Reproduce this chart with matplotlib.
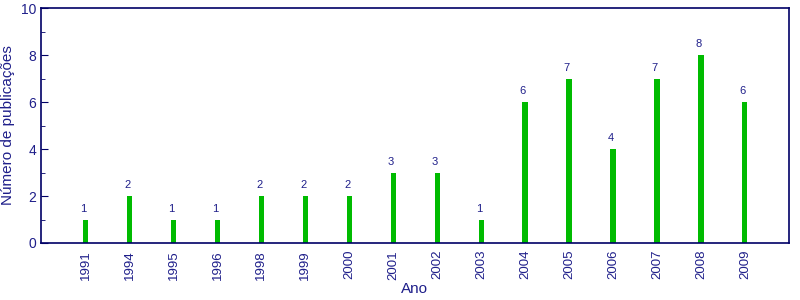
import matplotlib
matplotlib.use("Agg")
import matplotlib.pyplot as plt
from matplotlib.ticker import MultipleLocator

anos = ["1991", "1994", "1995", "1996", "1998", "1999", "2000", "2001",
        "2002", "2003", "2004", "2005", "2006", "2007", "2008", "2009"]
publicacoes = [1, 2, 1, 1, 2, 2, 2, 3, 3, 1, 6, 7, 4, 7, 8, 6]

texto = "#1f1f8a"
borda = "#000066"
verde = "#00bb00"

plt.rcParams["font.family"] = ["Liberation Sans", "DejaVu Sans"]

fig = plt.figure(figsize=(8, 3), dpi=100)
ax = fig.add_axes([0.051, 0.19, 0.935, 0.783])

x = range(len(anos))
ax.bar(x, publicacoes, width=0.12, color=verde)
for xi, v in zip(x, publicacoes):
    ax.text(xi - 0.05, v + 0.25, str(v), ha="center", va="bottom",
            fontsize=8, color=texto)

ax.set_xlim(-1.02, 16)
ax.set_ylim(0, 10)
ax.set_xticks(list(x))
ax.set_xticklabels(anos, rotation=90, fontsize=9.5, color=texto)
ax.tick_params(axis="x", length=0, pad=5)
ax.yaxis.set_major_locator(MultipleLocator(2))
ax.yaxis.set_minor_locator(MultipleLocator(1))
ax.tick_params(axis="y", which="both", direction="in", colors=borda,
               labelcolor=texto, labelsize=10)
ax.tick_params(axis="y", which="major", length=5)
ax.tick_params(axis="y", which="minor", length=3)
for s in ax.spines.values():
    s.set_color(borda)
    s.set_linewidth(1.2)

ax.set_xlabel("Ano", fontsize=11, color=texto, labelpad=2)
ax.set_ylabel("Número de publicações", fontsize=11, color=texto, labelpad=4)

fig.savefig("out.png", dpi=100)
